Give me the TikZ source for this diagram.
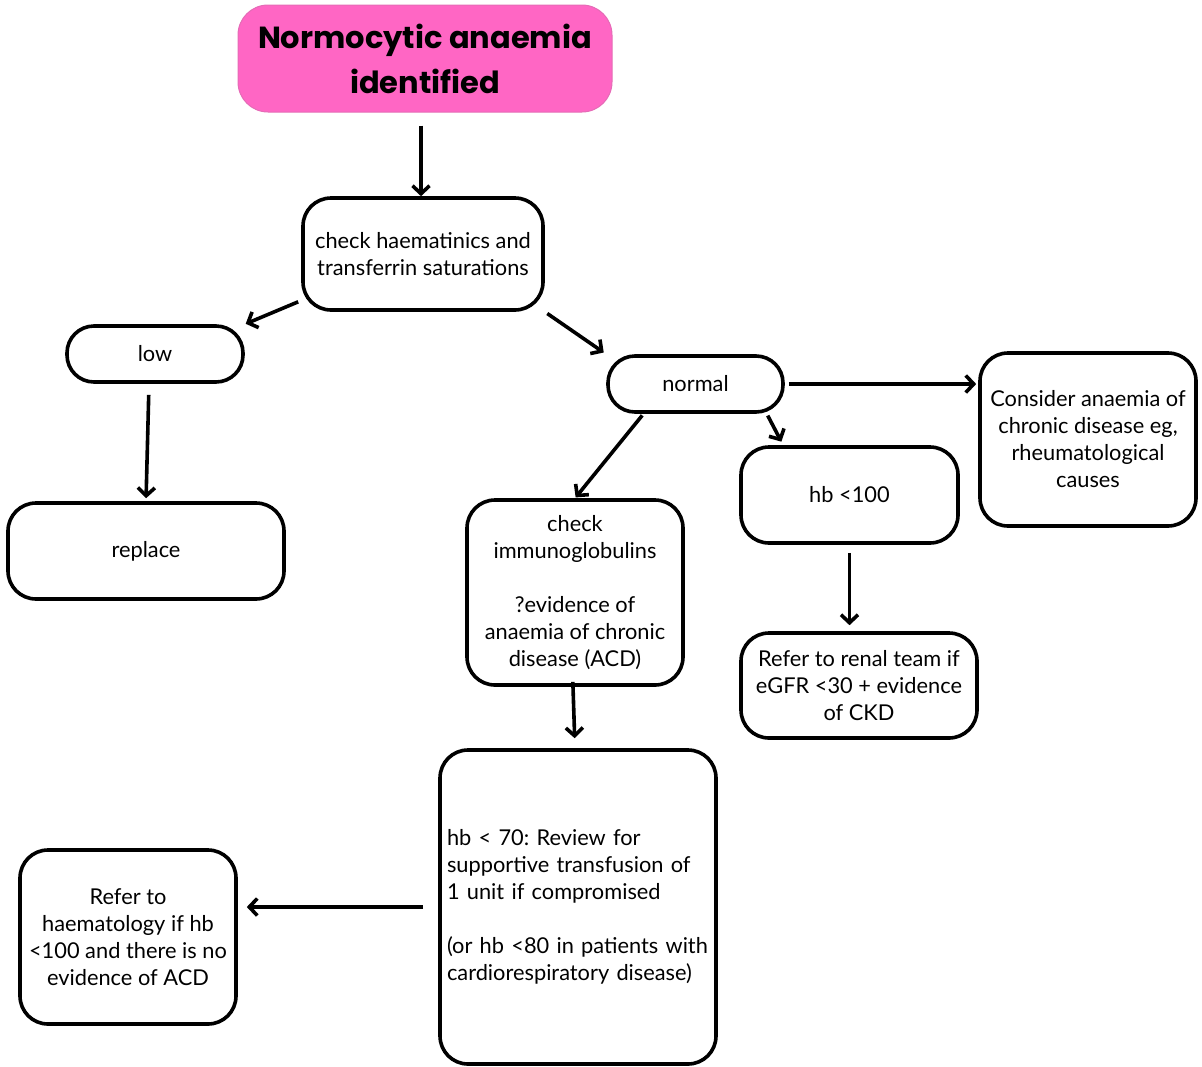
\documentclass[tikz,border=0pt]{standalone}
\usepackage{fontspec}
\setmainfont{Lato}
\newfontfamily\titlefont{Poppins}
\usetikzlibrary{arrows.meta}
\definecolor{titlepink}{RGB}{255,102,196}
\frenchspacing
\begin{document}
\begin{tikzpicture}[x=1pt,y=-1pt,
  box/.style={draw, line width=3.6pt, rounded corners=28pt, align=center, inner sep=4pt,
    font=\fontsize{21.8}{27}\selectfont},
  pill/.style={box, rounded corners=27pt},
  arr/.style={line width=3.6pt, -{Straight Barb[length=8pt,width=17pt]}}]
  \useasboundingbox (0,0) rectangle (1202,1066);
  \node[fill=titlepink, draw=titlepink!80!gray, line width=1pt, rounded corners=30pt,
    minimum width=374pt, minimum height=107pt, align=center,
    font=\titlefont\bfseries\fontsize{30.5}{45}\selectfont] (title) at (425,58.5)
    {Normocytic anaemia\\identified};
  \node[box, minimum width=240pt, minimum height=112pt] (check) at (423,254)
    {check haematinics and\\transferrin saturations};
  \node[pill, minimum width=176pt, minimum height=56pt] (low) at (155,354) {low};
  \node[pill, minimum width=175pt, minimum height=56pt] (normal) at (695.5,384) {normal};
  \node[box, minimum width=216pt, minimum height=173pt] (consider) at (1088,439.5)
    {Consider anaemia of\\chronic disease eg,\\rheumatological\\causes};
  \node[box, minimum width=217pt, minimum height=96pt] (hb) at (849.5,495) {hb <100};
  \node[box, minimum width=276pt, minimum height=96pt] (replace) at (146,551) {replace};
  \node[box, minimum width=216pt, minimum height=185pt] (immuno) at (575,592.5)
    {check\\immunoglobulins\\[27pt]?evidence of\\anaemia of chronic\\disease (ACD)};
  \node[box, minimum width=236pt, minimum height=105pt] (renal) at (859,685.5)
    {Refer to renal team if\\eGFR <30 + evidence\\of CKD};
  \node[box, minimum width=276pt, minimum height=314pt, text width=262pt, align=left,
    inner sep=7pt] (big) at (578,907)
    {hb < 70: Review for\\supportive transfusion of\\1 unit if compromised\\[27pt](or hb <80 in patients with\\cardiorespiratory disease)};
  \node[box, minimum width=216pt, minimum height=174pt] (haem) at (128,937)
    {Refer to\\haematology if hb\\<100 and there is no\\evidence of ACD};

  \draw[arr, shorten <=13pt] ([xshift=-4pt]title.south) -- ([xshift=-2pt]check.north);
  \draw[arr, shorten >=1pt] ([shift={(-3pt,10pt)}]check.south west) -- (low.north east);
  \draw[arr, shorten <=3pt, shorten >=3pt] (check.south east) -- (normal.north west);
  \draw[arr, shorten <=11pt, shorten >=3pt] ([xshift=-6pt]low.south) -- (replace.north);
  \draw[arr, shorten <=4pt, shorten >=2pt] (normal.east) -- (normal.east -| consider.west);
  \draw[arr, shorten <=2pt, shorten >=1pt] ([xshift=-52pt]normal.south) -- (immuno.north);
  \draw[arr, shorten <=2pt, shorten >=4pt] ([xshift=-18pt]normal.south east) -- ([xshift=44pt]hb.north west);
  \draw[arr, shorten <=8pt, shorten >=6pt] (hb.south) -- (hb.south |- renal.north);
  \draw[arr, shorten <=-5pt, shorten >=10pt] ([xshift=-2pt]immuno.south) -- (immuno.south |- big.north);
  \draw[arr, shorten <=15pt, shorten >=9pt] (big.west) -- (big.west -| haem.east);
\end{tikzpicture}
\end{document}
